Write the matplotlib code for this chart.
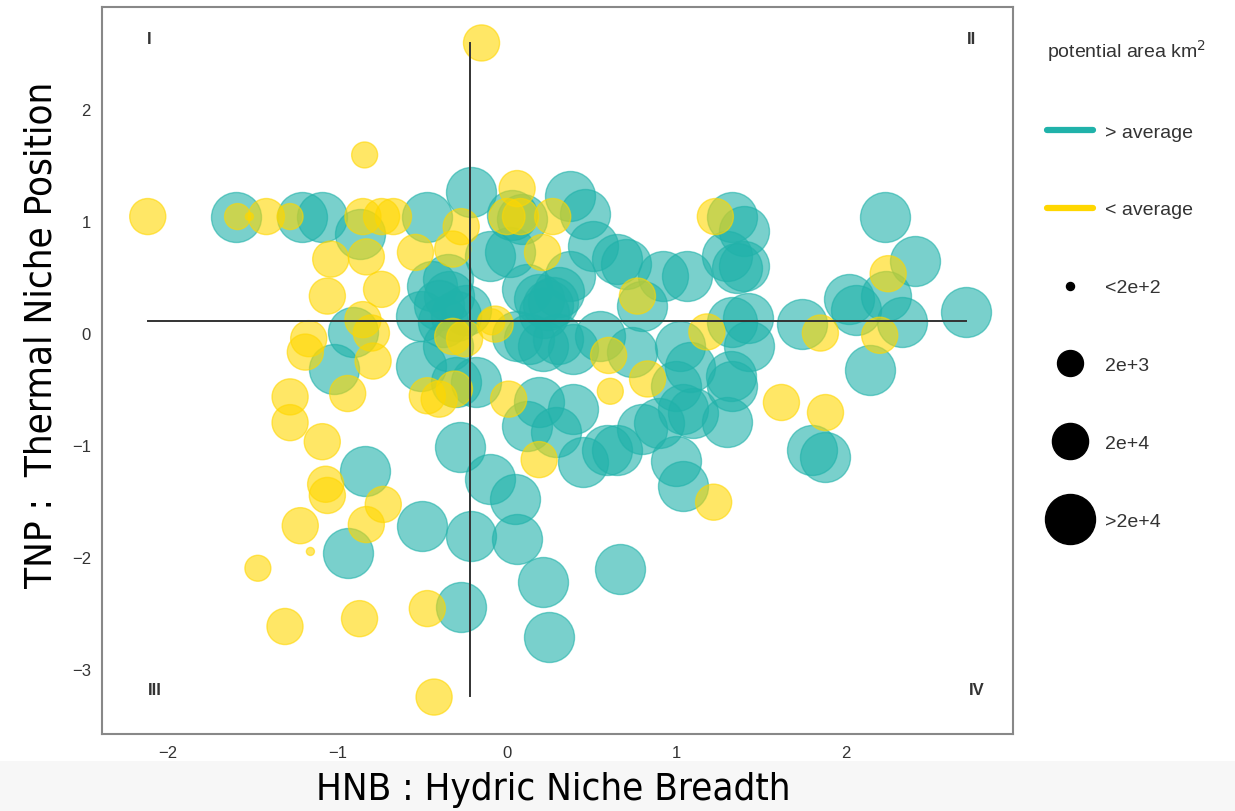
import matplotlib.pyplot as plt
from matplotlib.lines import Line2D
from matplotlib.patches import Rectangle
import numpy as np

# species above average potential area (all in the largest size class)
teal_x = [-1.60, -1.21, -1.09, -0.87, -0.47, -0.21, 0.03, 0.09, 0.37, 0.46,
          0.51, 0.65, 0.70, -0.10, 0.02, 0.37, 0.92, 1.06, -0.44, -0.34,
          0.12, 0.19, 0.24, 0.31, 0.80, -0.51, -0.38, -0.24, -0.35, -0.40,
          -0.30, 0.06, 0.21, 0.39, 0.55, 0.74, 1.02, -0.51, -0.30, -0.18,
          1.00, -0.91, -1.02, -0.28, -0.10, 0.05, -0.50, -0.21, 0.06, 0.19,
          0.39, 0.12, 0.29, 0.45, 0.59, 0.65, 0.80, 1.00, 1.04, 1.04,
          1.10, 1.30, 1.33, 1.32, 1.33, 1.42, 1.43, 1.74, 2.02, 2.06,
          2.24, 2.33, 2.71, 2.23, 2.41, 2.14, 1.33, 1.40, 1.30, 1.40,
          1.36, 1.80, 1.88, 0.67, 0.21, 0.25, -0.27, -0.84, -0.94, 0.27,
          0.22, 0.13, 0.30, 0.90, -0.35, 1.08]
teal_y = [1.04, 1.04, 1.04, 0.88, 1.04, 1.26, 1.05, 1.02, 1.22, 1.06,
          0.78, 0.66, 0.62, 0.69, 0.72, 0.51, 0.51, 0.51, 0.42, 0.33,
          0.39, 0.30, 0.25, 0.37, 0.24, 0.15, 0.10, 0.21, 0.48, 0.25,
          0.15, -0.03, -0.12, -0.14, -0.03, -0.17, -0.12, -0.29, -0.44, -0.44,
          -0.47, 0.01, -0.32, -1.02, -1.30, -1.48, -1.72, -1.81, -1.84, -0.62,
          -0.68, -0.83, -0.88, -1.15, -1.04, -1.04, -0.86, -1.14, -1.37, -0.68,
          -0.71, -0.79, -0.47, -0.38, 0.10, 0.13, -0.12, 0.08, 0.30, 0.21,
          0.33, 0.10, 0.19, 1.04, 0.64, -0.33, 1.04, 0.91, 0.69, 0.60,
          0.58, -1.04, -1.11, -2.11, -2.22, -2.71, -2.45, -1.23, -1.96, 0.28,
          0.18, -0.05, -0.05, -0.80, -0.12, -0.30]

# species below average potential area, with size class 1..3
gold_x = [-2.12, -1.59, -1.52, -1.42, -1.28, -0.85, -0.74, -0.67, -0.84, -1.04,
          -0.83, -1.06, -0.74, -0.54, -0.32, -0.85, -1.17, -1.19, -0.79, -0.80,
          -1.28, -1.28, -0.94, -1.09, -1.07, -1.06, -0.73, -0.83, -1.22, -1.16,
          -1.47, -1.31, -0.87, -0.47, -0.43, -0.15, 0.06, 0.27, 0.00, 0.08,
          0.21, -0.09, -0.07, -0.25, -0.32, 0.60, 0.61, 0.83, 0.77, -0.31,
          -0.40, 0.01, 0.19, 1.18, 1.85, 2.20, 2.25, 1.23, 1.62, 1.88,
          1.22, -0.47, -0.27]
gold_y = [1.04, 1.04, 1.04, 1.04, 1.04, 1.04, 1.04, 1.04, 1.59, 0.66,
          0.68, 0.33, 0.39, 0.72, 0.75, 0.12, -0.05, -0.17, -0.25, 0.00,
          -0.57, -0.80, -0.54, -0.97, -1.35, -1.45, -1.53, -1.71, -1.72, -1.95,
          -2.10, -2.62, -2.55, -2.46, -3.25, 2.59, 1.29, 1.04, 1.04, 1.04,
          0.72, 0.10, 0.08, -0.05, -0.03, -0.20, -0.52, -0.41, 0.33, -0.50,
          -0.59, -0.59, -1.13, 0.01, 0.00, -0.02, 0.53, 1.04, -0.62, -0.71,
          -1.51, -0.56, 0.95]
gold_cls = [3, 2, 1, 3, 2, 3, 3, 3, 2, 3,
            3, 3, 3, 3, 3, 3, 3, 3, 3, 3,
            3, 3, 3, 3, 3, 3, 3, 3, 3, 1,
            2, 3, 3, 3, 3, 3, 3, 3, 3, 3,
            3, 2, 3, 3, 3, 3, 2, 3, 3, 3,
            3, 3, 3, 3, 3, 3, 3, 3, 3, 3,
            3, 3, 3]

size_labels = ['<2e+2', '2e+3', '2e+4', '>2e+4']
quadrants = ['I', 'II', 'III', 'IV']
quad_x = [-2.11, 2.74, -2.08, 2.77]
quad_y = [2.63, 2.63, -3.18, -3.18]

TEAL = '#20b2aa'
GOLD = '#ffd700'
diam = {1: 5.8, 2: 18.7, 3: 26.0, 4: 36.0}  # marker diameter (pt) per size class

fig = plt.figure(figsize=(12.35, 8.12), dpi=100, facecolor='white')
fig.patches.append(Rectangle((0, 0), 1, 0.062, transform=fig.transFigure,
                             facecolor='#f7f7f7', edgecolor='none', zorder=0))
ax = fig.add_axes([0.0826, 0.0948, 0.7374, 0.8952])

ax.scatter(teal_x, teal_y, s=diam[4] ** 2, color=TEAL, alpha=0.6,
           edgecolors='face', linewidths=1, zorder=2)
ax.scatter(gold_x, gold_y, s=[diam[c] ** 2 for c in gold_cls], color=GOLD,
           alpha=0.6, edgecolors='face', linewidths=1, zorder=3)

# quadrant cross
ax.plot([-2.12, 2.71], [0.107, 0.107], color='#333333', lw=1.4, zorder=4)
ax.plot([-0.218, -0.218], [-3.24, 2.59], color='#333333', lw=1.4, zorder=4)
for q, qx, qy in zip(quadrants, quad_x, quad_y):
    ax.text(qx, qy, q, fontsize=12, fontweight='bold', color='#333333',
            ha='center', va='center', family='Liberation Sans')

ax.set_xlim(-2.39, 2.985)
ax.set_ylim(-3.58, 2.91)
ax.set_xticks([-2, -1, 0, 1, 2])
ax.set_yticks([-3, -2, -1, 0, 1, 2])
ax.tick_params(length=0, labelsize=12, labelcolor='#333333', pad=8)
for lab in ax.get_xticklabels() + ax.get_yticklabels():
    lab.set_family('Liberation Sans')
for sp in ax.spines.values():
    sp.set_color('#888888')
    sp.set_linewidth(1.5)

fig.text(553 / 1235, 1 - 790 / 812, 'HNB : Hydric Niche Breadth', fontsize=27.5,
         ha='center', va='center', family='DejaVu Sans', fontstretch='condensed',
         color='black')
fig.text(42 / 1235, 1 - 335 / 812, 'TNP :  Thermal Niche Position', fontsize=27.5,
         ha='center', va='center', rotation=90, family='DejaVu Sans',
         fontstretch='condensed', color='black')

handles = [Line2D([], [], color=TEAL, lw=4.5, solid_capstyle='round'),
           Line2D([], [], color=GOLD, lw=4.5, solid_capstyle='round')]
for k in range(1, 5):
    handles.append(Line2D([], [], ls='none', marker='o', color='black',
                          markersize=diam[k]))
labels = ['> average', '< average'] + size_labels
leg = fig.legend(handles, labels, title='potential area km$^2$',
                 loc='upper left', bbox_to_anchor=(1039 / 1235, 1 - 30 / 812),
                 frameon=False, title_fontsize=14,
                 labelspacing=3.1, handlelength=2.4, handletextpad=0.6,
                 borderaxespad=0, prop={'family': 'Liberation Sans', 'size': 14})
leg._legend_box.align = 'left'
for t in leg.get_texts():
    t.set_color('#333333')
leg.get_title().set_color('#333333')
leg.get_title().set_family('Liberation Sans')

fig.savefig('out.png', dpi=100)
